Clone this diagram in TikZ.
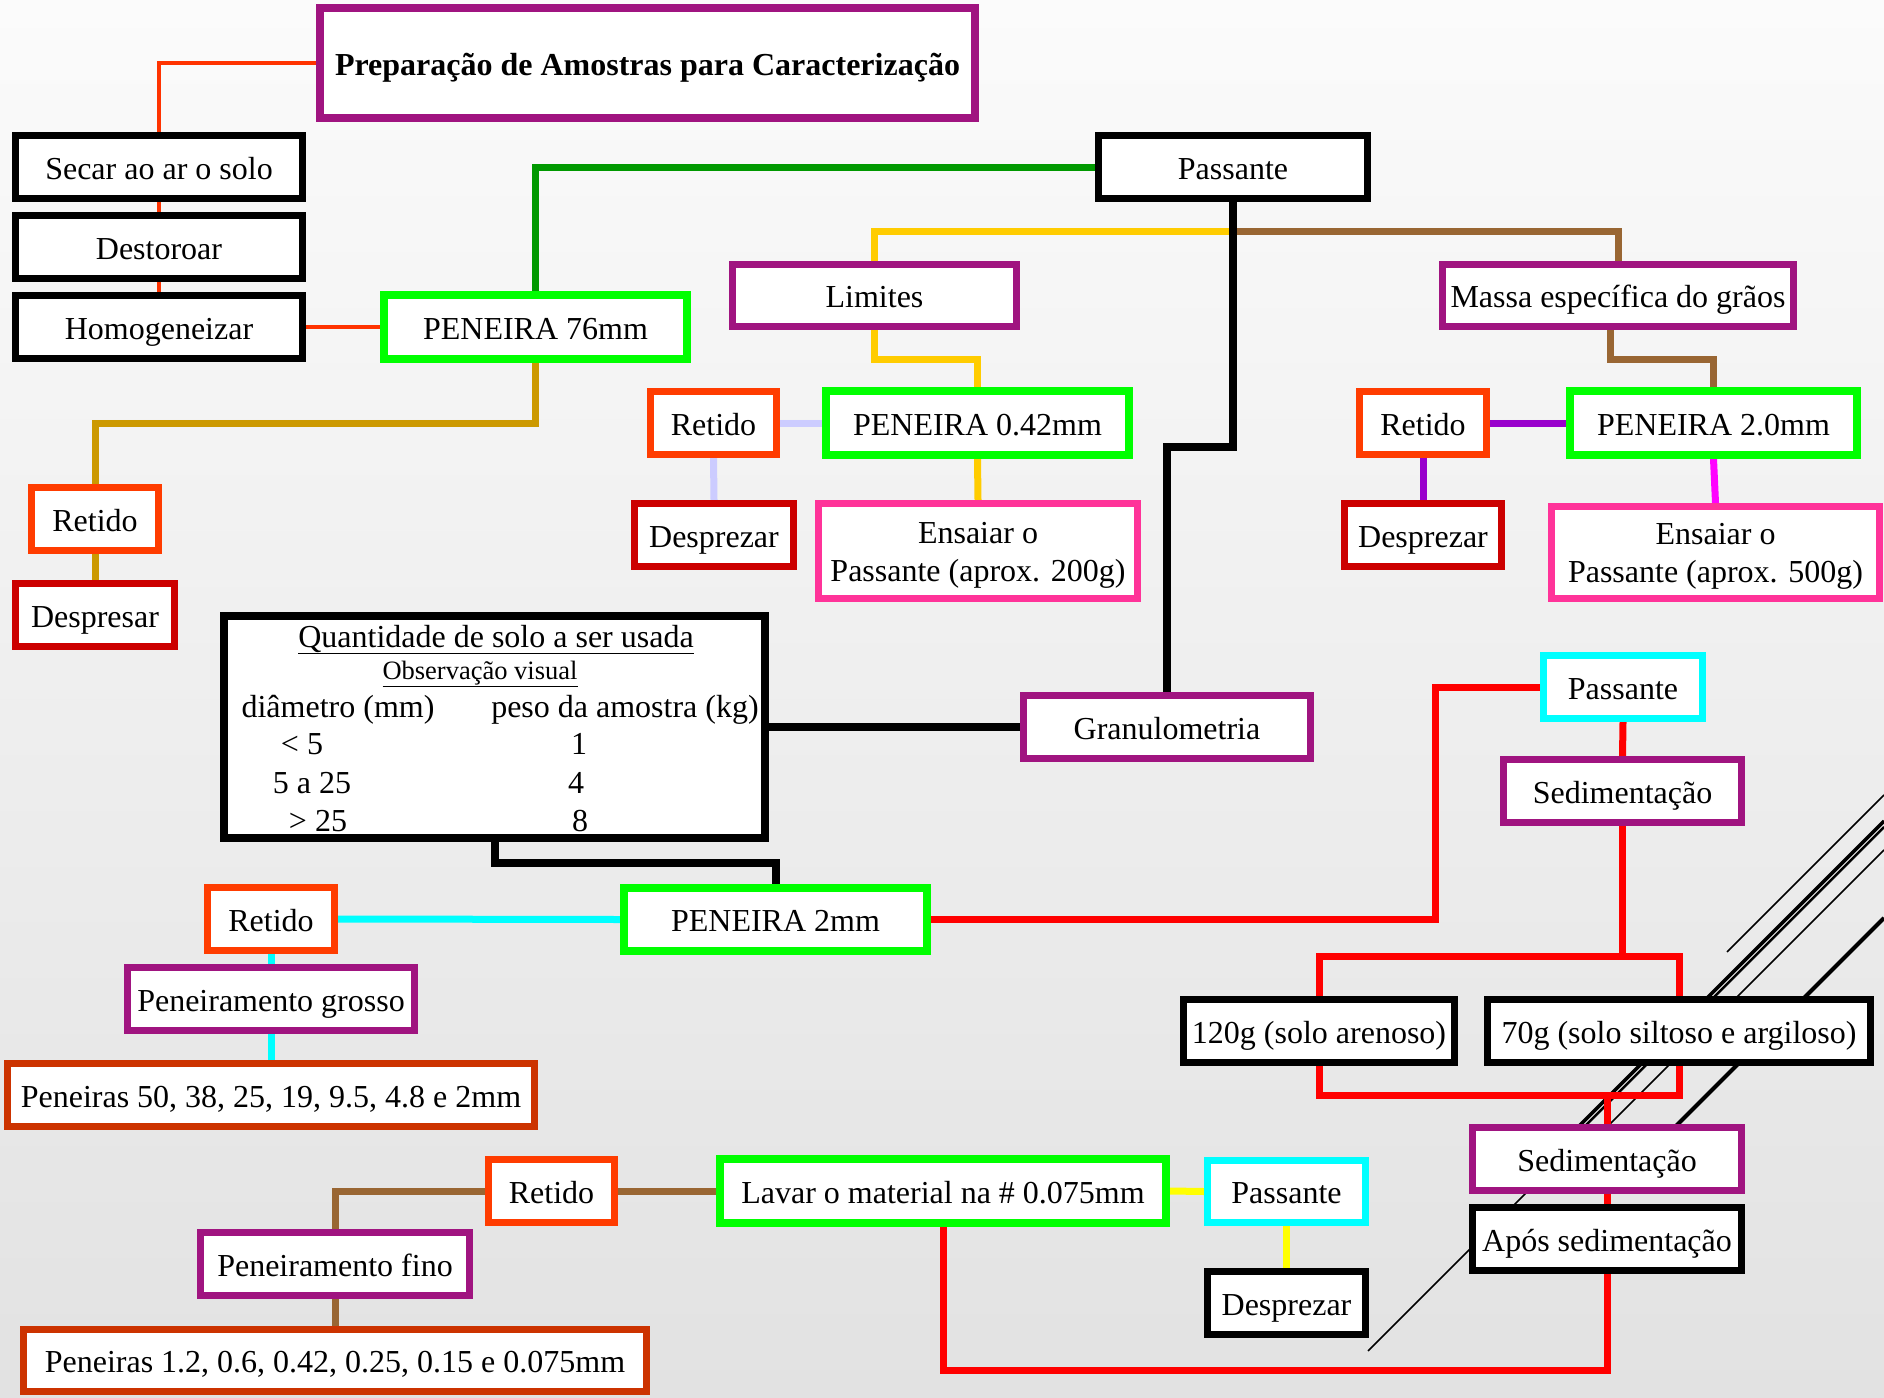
\documentclass[tikz,border=0pt]{standalone}
\usepackage{fontspec}
\setmainfont{Liberation Serif}
\usetikzlibrary{calc}
\pgfdeclarelayer{back}
\pgfdeclarelayer{conn}
\pgfsetlayers{back,conn,main}
\definecolor{purp}{RGB}{160,20,128}
\definecolor{grn}{RGB}{0,255,0}
\definecolor{orng}{RGB}{255,60,0}
\definecolor{dkred}{RGB}{204,0,0}
\definecolor{pnk}{RGB}{255,51,153}
\definecolor{cyn}{RGB}{0,255,255}
\definecolor{rust}{RGB}{204,51,0}
\definecolor{cOrange}{RGB}{255,51,0}
\definecolor{cDkGreen}{RGB}{0,153,0}
\definecolor{cGold}{RGB}{204,153,0}
\definecolor{cYellow}{RGB}{255,204,0}
\definecolor{cBrown}{RGB}{153,102,51}
\definecolor{cLav}{RGB}{204,204,255}
\definecolor{cPurple}{RGB}{153,0,204}
\definecolor{cMag}{RGB}{255,0,255}
\definecolor{cRed}{RGB}{255,0,0}
\definecolor{cYel2}{RGB}{255,255,0}
\definecolor{bgTop}{RGB}{251,251,251}
\definecolor{bgBot}{RGB}{226,226,226}
\tikzset{
  bx/.style={draw, fill=white, line width=7pt, inner sep=0pt, font=\fontsize{32}{38}\selectfont},
  one/.style={text height=24pt, text depth=0pt},
  sz/.style 2 args={minimum width=#1pt, minimum height=#2pt},
  blk/.style={bx, one, draw=black},
  prp/.style={bx, one, draw=purp},
  gbox/.style={bx, one, draw=grn, line width=8pt},
  obox/.style={bx, one, draw=orng},
  rbox/.style={bx, one, draw=dkred},
  pbox/.style={bx, draw=pnk, align=center, text height=60pt, text depth=0pt},
  cbox/.style={bx, one, draw=cyn},
  rsbox/.style={bx, one, draw=rust},
  cn/.style={line width=7pt},
  cnthin/.style={line width=4pt, cOrange},
  cnblk/.style={line width=8pt, black},
  deco/.style={black},
  tt/.style={anchor=base, inner sep=0pt, font=\fontsize{32}{38}\selectfont}
}
\begin{document}
\begin{tikzpicture}[x=1pt, y=-1pt]
\useasboundingbox (0,0) rectangle (1884,1397);
\begin{pgfonlayer}{back}
  \shade[top color=bgTop, bottom color=bgBot] (0,0) rectangle (1884,1397);
  \draw[deco, line width=1.5pt] (1727,952) -- (1884,795);
  \draw[deco, line width=3.5pt] (1578,1127) -- (1884,821);
  \draw[deco, line width=2.5pt] (1584,1127) -- (1884,827);
  \draw[deco, line width=1.5pt] (1606,1128) -- (1884,850);
  \draw[deco, line width=4pt] (1674,1128) -- (1884,918);
  \draw[deco, line width=1.5pt] (1368,1351) -- (1590,1129);
\end{pgfonlayer}

% nodes
\node[bx, one, draw=purp, line width=8pt, sz={655}{110}, font=\fontsize{32}{38}\selectfont\bfseries] (title) at (647.5,63) {Preparação de Amostras para Caracterização};
\node[blk, sz={287}{63}] (secar) at (159,167) {Secar ao ar o solo};
\node[blk, sz={287}{63}] (destor) at (159,247) {Destoroar};
\node[blk, sz={287}{63}] (homog) at (159,327) {Homogeneizar};
\node[gbox, sz={303}{64}] (p76) at (535.5,327) {PENEIRA 76mm};
\node[blk, sz={269}{63}] (pass) at (1233,167) {Passante};
\node[prp, sz={284}{62}] (lim) at (874.5,295.5) {Limites};
\node[prp, sz={351}{62}] (massa) at (1618,295.5) {Massa específica do grãos};
\node[obox, sz={126}{63}] (ret042) at (713.5,423) {Retido};
\node[gbox, sz={303}{64}] (p042) at (977.5,423) {PENEIRA 0.42mm};
\node[obox, sz={127}{63}] (ret20) at (1423,423) {Retido};
\node[gbox, sz={287}{64}] (p20) at (1713.5,423) {PENEIRA 2.0mm};
\node[rbox, sz={159}{63}] (desp042) at (714,535) {Desprezar};
\node[pbox, sz={319}{95}] (ens200) at (978,551) {Ensaiar o\\Passante (aprox. 200g)};
\node[rbox, sz={157}{63}] (desp20) at (1423,535) {Desprezar};
\node[pbox, sz={328}{92}] (ens500) at (1715.5,552.5) {Ensaiar o\\Passante (aprox. 500g)};
\node[obox, sz={127}{63}] (ret76) at (95,519) {Retido};
\node[rbox, sz={159}{63}] (desp76) at (95,615) {Despresar};
\node[bx, draw=black, line width=8pt, sz={541}{222}] (tab) at (494.5,727) {};
\node[prp, sz={287}{63}] (gran) at (1167,727) {Granulometria};
\node[cbox, sz={159}{63}] (passc) at (1623,687) {Passante};
\node[prp, sz={238}{63}] (sed1) at (1622.5,791) {Sedimentação};
\node[blk, sz={271}{63}] (g120) at (1319,1031) {120g (solo arenoso)};
\node[blk, sz={383}{63}] (g70) at (1679,1031) {70g (solo siltoso e argiloso)};
\node[obox, sz={127}{63}] (ret2) at (271,919) {Retido};
\node[gbox, sz={303}{63}] (p2) at (775.5,919.5) {PENEIRA 2mm};
\node[prp, sz={287}{63}] (grosso) at (271,999) {Peneiramento grosso};
\node[rsbox, sz={527}{63}] (pen50) at (271,1095) {Peneiras 50, 38, 25, 19, 9.5, 4.8 e 2mm};
\node[prp, sz={269}{63}] (sed2) at (1607,1159) {Sedimentação};
\node[blk, sz={269}{63}] (apos) at (1607,1239) {Após sedimentação};
\node[obox, sz={126}{63}] (retb) at (551.5,1191) {Retido};
\node[gbox, sz={446}{64}] (lavar) at (943,1191) {Lavar o material na \# 0.075mm};
\node[cbox, sz={158}{62}] (passb) at (1286.5,1191.5) {Passante};
\node[blk, sz={158}{63}] (despb) at (1286.5,1303) {Desprezar};
\node[prp, sz={269}{63}] (fino) at (335,1264) {Peneiramento fino};
\node[rsbox, sz={623}{62}] (pen12) at (335,1360.5) {Peneiras 1.2, 0.6, 0.42, 0.25, 0.15 e 0.075mm};

% table contents
\node[tt] (tq) at (496,647) {\underline{Quantidade de solo a ser usada}};
\node[tt, font=\fontsize{26.5}{30}\selectfont] (tobs) at (480,679) {\underline{Observação visual}};
\node[tt] (tdia) at (338,717) {diâmetro (mm)};
\node[tt] (tpeso) at (625,717) {peso da amostra (kg)};
\node[tt] (tr1) at (302,754) {< 5};
\node[tt] (tr2) at (312,793) {5 a 25};
\node[tt] (tr3) at (318,831) {> 25};
\node[tt] (tv1) at (579,754) {1};
\node[tt] (tv2) at (576,793) {4};
\node[tt] (tv3) at (580,831) {8};

% connectors
\begin{pgfonlayer}{conn}
  \draw[cnthin] (title.west) -| (secar.north);
  \draw[cnthin] (secar.south) -- (destor.north);
  \draw[cnthin] (destor.south) -- (homog.north);
  \draw[cnthin] (homog.east) -- (p76.west);
  \draw[cn, cDkGreen] (p76.north) |- (pass.west);
  \draw[cn, cGold] (p76.south) -- (p76.south |- 0,423) -| (ret76.north);
  \draw[cn, cGold] (ret76.south) -- (desp76.north);
  \draw[cn, cYellow] (pass.south |- 0,231) -| (lim.north);
  \draw[cn, cBrown] (pass.south |- 0,231) -| (massa.north);
  \draw[cnblk] (pass.south) -- (pass.south |- 0,447) -| (gran.north);
  \draw[cn, cYellow] (lim.south) -- (lim.south |- 0,359) -| (p042.north);
  \draw[cn, cYellow] (p042.south) -- (ens200.north);
  \draw[cn, cLav] (ret042.east) -- (p042.west);
  \draw[cn, cLav] (ret042.south) -- (desp042.north);
  \draw[cn, cBrown] ([xshift=-8pt]massa.south) -- ([xshift=-8pt]massa.south |- 0,359) -| (p20.north);
  \draw[cn, cPurple] (ret20.east) -- (p20.west);
  \draw[cn, cPurple] (ret20.south) -- (desp20.north);
  \draw[cn, cMag] (p20.south) -- (ens500.north);
  \draw[cnblk] (tab.east) -- (gran.west);
  \draw[cnblk] (tab.south) -- (tab.south |- 0,863) -| (p2.north);
  \draw[cn, cyn] (ret2.east) -- (p2.west);
  \draw[cn, cyn] (ret2.south) -- (grosso.north);
  \draw[cn, cyn] (grosso.south) -- (pen50.north);
  \draw[cn, cRed] (p2.east) -- (p2.east -| 1435,0) |- (passc.west);
  \draw[cn, cRed] (passc.south) -- (sed1.north);
  \draw[cn, cRed] (sed1.south) -- (sed1.south |- 0,956);
  \draw[cn, cRed] (g120.north) |- ($(g70.north)+(0,-40)$) -- (g70.north);
  \draw[cn, cRed] (g120.south) |- ($(g70.south)+(0,29)$) -- (g70.south);
  \draw[cn, cRed] (sed2.north) -- (sed2.north |- 0,1095);
  \draw[cn, cRed] (sed2.south) -- (apos.north);
  \draw[cn, cRed] (apos.south) -- (apos.south |- 0,1370) -| (lavar.south);
  \draw[cn, cBrown] (lavar.west) -- (retb.east);
  \draw[cn, cBrown] (retb.west) -| (fino.north);
  \draw[cn, cBrown] (fino.south) -- (pen12.north);
  \draw[cn, cYel2] (lavar.east) -- (passb.west);
  \draw[cn, cYel2] (passb.south) -- (despb.north);
\end{pgfonlayer}
\end{tikzpicture}
\end{document}
